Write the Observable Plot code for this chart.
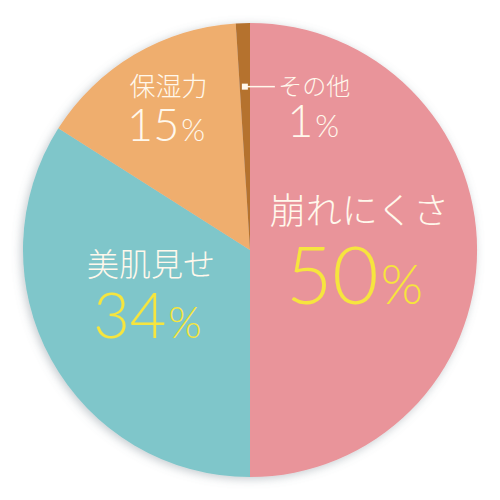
<!DOCTYPE html>
<html><head><meta charset="utf-8">
<script src="https://cdn.jsdelivr.net/npm/d3@7"></script>
<script src="https://cdn.jsdelivr.net/npm/@observablehq/plot@0.6"></script>
<style>html,body{margin:0;padding:0;background:#fff}</style>
</head><body><div id="chart"></div>
<script>
// ---- data ----
const categories = ["崩れにくさ", "美肌見せ", "保湿力", "その他"];
const values = [50, 34, 15, 1];

// ---- styles / layout ----
const sliceColors = ["#E9949A", "#7FC6CA", "#EFAE6E", "#B5722D"];
const numberColors = ["#F6E53E", "#F6E53E", "#FFF8EC", "#FFF8EC"];
const nameColor = "#FFF8EC";
const layout = [
  {f: 0.48, nameDy: -38, numDy: 53, nameSize: 36, numSize: 80, outside: false},
  {f: 0.50, nameDy: -39, numDy: 33, nameSize: 32, numSize: 63, outside: false},
  {f: 0.71, nameDy: -24, numDy: 29, nameSize: 26, numSize: 45, outside: false},
  {f: 0.72, nameDy: 0,   numDy: 50, nameSize: 24, numSize: 45, outside: true}
];
const PCT = 0.68;
const R = 227;
const JP = "'Noto Sans CJK JP', 'Noto Sans', sans-serif";
const NUM = "Lato, 'Open Sans', sans-serif";

const data = categories.map((c, i) => ({category: c, value: values[i], i}));
const arcs = d3.pie().sort(null).value(d => d.value)(data);

// label anchors derived from slice mid-angles
const rows = arcs.map((a, i) => {
  const mid = (a.startAngle + a.endAngle) / 2;
  const L = layout[i];
  const ax = Math.sin(mid) * R * L.f;
  const ay = -Math.cos(mid) * R * L.f;
  const nd = a.data.value >= 10 ? 2 : 1;
  const digitW = 0.53 * L.numSize * nd;
  const pctW = PCT * L.numSize * 0.85;
  const split = L.outside ? ax + 68 : ax + (digitW - pctW) / 2;
  return {
    ...a.data, ax, ay, L,
    nameX: L.outside ? ax + 33 : ax,
    nameY: ay + L.nameDy,
    numY: ay + L.numDy,
    split
  };
});

function sliceMark(index, scales, vals, dims) {
  const sx = scales && scales.x ? scales.x : (v => v + 250);
  const sy = scales && scales.y ? scales.y : (v => v + 250);
  const cx = sx(0), cy = sy(0), r = Math.abs(sx(R) - sx(0));
  const color = d3.scaleOrdinal(categories, sliceColors);
  const g = d3.create("svg:g");
  const defs = g.append("defs");
  const filt = defs.append("filter").attr("id", "pieShadow")
    .attr("x", "-20%").attr("y", "-20%").attr("width", "140%").attr("height", "140%");
  filt.append("feDropShadow").attr("dx", -2).attr("dy", 2)
    .attr("stdDeviation", 5).attr("flood-color", "#6b7a85").attr("flood-opacity", 0.4);
  const arc = d3.arc().innerRadius(0).outerRadius(r);
  const pg = g.append("g").attr("transform", `translate(${cx},${cy})`).attr("filter", "url(#pieShadow)");
  pg.selectAll("path").data(arcs).join("path")
    .attr("d", arc)
    .attr("fill", d => color(d.data.category));
  // leader for outside labels
  rows.filter(d => d.L.outside).forEach(d => {
    const x0 = sx(d.ax), y0 = sy(d.ay);
    g.append("line").attr("x1", x0).attr("x2", x0 + 30).attr("y1", y0).attr("y2", y0)
      .attr("stroke", nameColor).attr("stroke-width", 1.5);
    g.append("rect").attr("x", x0 - 3).attr("y", y0 - 3).attr("width", 6).attr("height", 6)
      .attr("fill", nameColor);
  });
  return g.node();
}

const inside = rows.filter(d => !d.L.outside);
const outside = rows.filter(d => d.L.outside);

const chart = Plot.plot({
  width: 500, height: 500, margin: 0,
  style: {background: "#fff", overflow: "visible"},
  x: {domain: [-250, 250], range: [0, 500], axis: null},
  y: {domain: [-250, 250], range: [0, 500], axis: null},
  color: {type: "identity"},
  marks: [
    sliceMark,
    // category names
    Plot.text(inside, {x: "nameX", y: "nameY", text: "category", fill: () => nameColor,
      fontSize: d => d.L.nameSize, textAnchor: "middle", lineAnchor: "middle",
      fontFamily: JP, fontWeight: 300}),
    Plot.text(outside, {x: "nameX", y: "nameY", text: "category", fill: () => nameColor,
      fontSize: d => d.L.nameSize, textAnchor: "start", lineAnchor: "middle",
      fontFamily: JP, fontWeight: 300}),
    // numbers
    Plot.text(rows, {x: "split", y: "numY", text: d => String(d.value), fill: d => numberColors[d.i],
      fontSize: d => d.L.numSize, textAnchor: "end", lineAnchor: "bottom",
      fontFamily: NUM, fontWeight: 300}),
    // percent signs
    Plot.text(rows, {x: "split", y: "numY", text: () => "%", fill: d => numberColors[d.i],
      fontSize: d => d.L.numSize * PCT, textAnchor: "start", lineAnchor: "bottom",
      fontFamily: NUM, fontWeight: 300, dx: 2})
  ]
});
document.getElementById("chart").appendChild(chart);
</script>
</body></html>
